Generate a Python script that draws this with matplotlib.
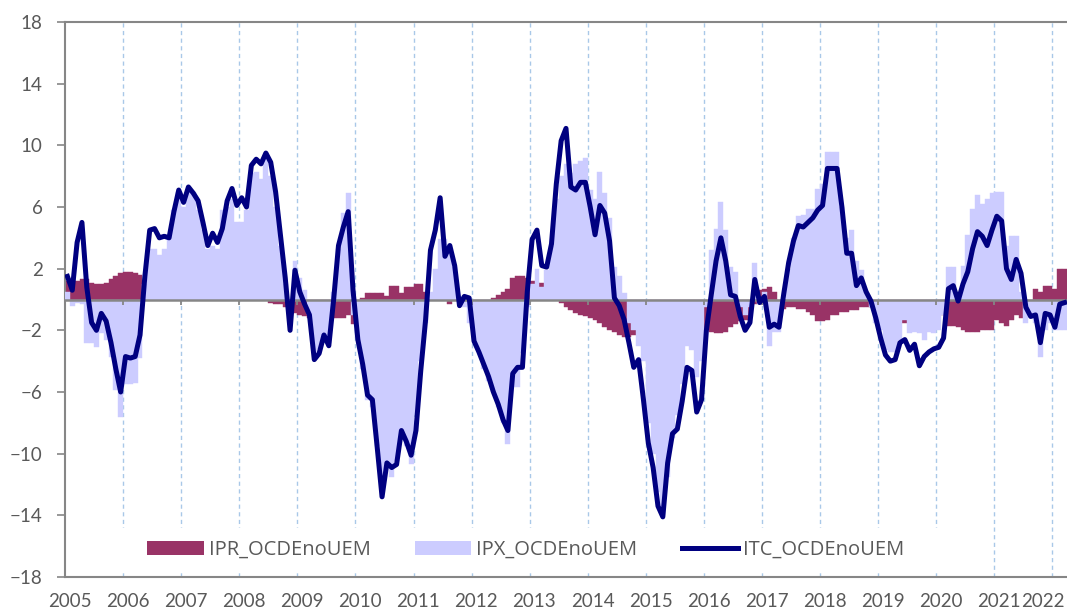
import numpy as np
import matplotlib.pyplot as plt
from matplotlib.patches import Patch, Rectangle
from matplotlib.lines import Line2D

plt.rcParams['font.family'] = ['Lato', 'DejaVu Sans']

# monthly data, Jan 2005 .. Mar 2022
start_year = 2005
itc = [
    1.5, 0.6, 3.7, 5.0, 0.8, -1.5, -2.0, -0.9, -1.4, -2.8, -4.5, -6.0,          # 2005
    -3.7, -3.8, -3.7, -2.3, 1.5, 4.5, 4.6, 4.0, 4.1, 4.0, 5.7, 7.1,             # 2006
    6.3, 7.3, 6.9, 6.4, 5.0, 3.5, 4.3, 3.7, 4.6, 6.4, 7.2, 6.1,                 # 2007
    6.6, 6.0, 8.7, 9.1, 8.8, 9.5, 8.9, 7.0, 4.2, 1.4, -2.0, 1.9,                # 2008
    0.5, -0.3, -1.0, -3.9, -3.5, -2.3, -3.0, 0.0, 3.5, 4.7, 5.7, 0.6,           # 2009
    -2.6, -4.2, -6.2, -6.5, -9.6, -12.8, -10.6, -10.9, -10.7, -8.5, -9.2, -10.1,  # 2010
    -8.5, -4.6, -1.3, 3.2, 4.5, 6.6, 2.8, 3.5, 2.2, -0.4, 0.2, 0.1,             # 2011
    -2.7, -3.4, -4.2, -5.0, -6.0, -6.8, -7.8, -8.5, -4.8, -4.4, -4.4, 0.5,      # 2012
    3.9, 4.5, 2.2, 2.1, 3.6, 7.5, 10.3, 11.1, 7.3, 7.1, 7.6, 7.6,               # 2013
    6.0, 4.2, 6.1, 5.6, 3.8, 0.1, -0.4, -1.3, -2.8, -4.4, -3.9, -6.5,           # 2014
    -9.3, -10.9, -13.4, -14.1, -10.6, -8.7, -8.4, -6.6, -4.4, -4.6, -7.3, -6.5,  # 2015
    -2.0, 0.3, 2.5, 4.0, 2.5, 0.3, 0.2, -1.1, -2.0, -1.5, 1.3, -0.2,            # 2016
    0.2, -1.8, -1.6, -1.8, 0.4, 2.4, 3.8, 4.8, 4.7, 5.0, 5.3, 5.8,              # 2017
    6.1, 8.5, 8.5, 8.5, 6.0, 3.0, 3.0, 0.9, 1.4, 0.5, -0.1, -1.2,               # 2018
    -2.5, -3.6, -4.0, -3.9, -2.8, -2.6, -3.3, -2.9, -4.3, -3.7, -3.4, -3.2,     # 2019
    -3.1, -2.5, 0.7, 0.9, -0.1, 1.0, 1.8, 3.3, 4.4, 4.1, 3.5, 4.5,              # 2020
    5.4, 5.1, 2.0, 1.3, 2.6, 1.7, -0.5, -1.1, -1.0, -2.8, -0.9, -1.0,           # 2021
    -1.8, -0.3, -0.2,                                                           # 2022
]
ipx = [
    0.5, -0.4, -0.2, -0.3, -2.8, -2.8, -3.1, -2.2, -2.6, -3.7, -5.9, -7.6,      # 2005
    -5.5, -5.5, -5.4, -3.8, 1.0, 3.3, 3.3, 2.9, 3.3, 3.9, 5.8, 7.0,             # 2006
    6.0, 7.0, 7.0, 5.8, 4.5, 3.3, 3.5, 3.3, 5.8, 6.0, 6.5, 5.0,                 # 2007
    5.0, 5.8, 8.2, 8.3, 7.8, 9.2, 8.0, 6.0, 3.5, 1.0, -0.5, 2.5,                # 2008
    1.4, 0.6, -1.0, -3.5, -3.2, -2.2, -2.8, 0.5, 3.3, 5.6, 6.9, -1.0,           # 2009
    -2.5, -4.5, -6.5, -7.0, -9.5, -12.9, -11.0, -11.5, -10.5, -8.8, -9.5, -10.7,  # 2010
    -7.5, -4.0, -1.5, 0.5, 2.0, 3.9, 3.9, 3.0, 2.1, 0.2, -0.5, -1.5,            # 2011
    -2.5, -3.3, -4.5, -5.3, -6.0, -7.0, -8.0, -9.4, -5.7, -5.7, -3.5, -0.5,     # 2012
    1.0, 2.0, 0.8, 1.9, 3.5, 6.5, 8.0, 8.8, 8.2, 8.8, 9.0, 9.2,                 # 2013
    7.1, 6.5, 8.3, 6.9, 5.3, 2.1, 1.5, 0.4, -1.5, -2.0, -3.0, -4.0,             # 2014
    -8.0, -10.0, -12.5, -14.0, -11.5, -9.0, -7.5, -5.5, -3.0, -3.3, -5.0, -4.0,  # 2015
    -0.5, 3.2, 4.6, 6.3, 4.5, 2.1, 1.8, -0.5, -1.0, -0.5, 2.4, -0.3,            # 2016
    0.5, -3.0, -2.1, -2.1, 0.0, 2.0, 4.0, 5.4, 5.5, 5.9, 5.9, 7.2,              # 2017
    7.5, 9.6, 9.6, 9.6, 6.0, 4.0, 4.5, 2.5, 1.9, 0.4, -0.5, -1.5,               # 2018
    -2.0, -3.3, -3.4, -3.4, -2.6, -1.3, -2.2, -2.1, -2.2, -2.6, -2.1, -2.2,     # 2019
    -2.0, -1.0, 2.1, 2.1, 0.5, 2.2, 4.2, 5.9, 6.8, 6.2, 6.5, 6.9,               # 2020
    7.0, 7.0, 3.5, 4.1, 4.1, 0.5, -1.5, -1.0, -1.5, -3.7, -2.0, -1.5,           # 2021
    -2.0, -2.0, -2.0,                                                           # 2022
]
ipr = [
    1.2, 1.3, 1.2, 1.3, 1.3, 1.1, 1.0, 1.0, 1.1, 1.3, 1.5, 1.7,                 # 2005
    1.8, 1.8, 1.7, 1.6, 0.5, 0.3, 0.3, 0.3, 0.3, 0.3, 0.3, 0.3,                 # 2006
    0.3, 0.3, 0.3, 0.3, 0.3, 0.3, 0.3, 0.3, 0.3, 0.3, 0.3, 0.3,                 # 2007
    0.3, 0.3, 0.3, 0.3, 0.2, 0.0, -0.2, -0.3, -0.3, -0.5, -0.7, -0.9,           # 2008
    -1.0, -1.1, -1.2, -1.2, -1.6, -1.2, -1.2, -1.2, -1.2, -1.2, -1.0, -1.6,     # 2009
    -1.0, 0.1, 0.4, 0.4, 0.4, 0.4, 0.2, 0.9, 0.9, 0.4, 0.8, 0.8,                # 2010
    1.0, 1.0, 0.5, 0.3, 0.2, 0.1, 0.0, -0.3, 0.0, 0.0, 0.0, 0.0,                # 2011
    0.0, 0.0, 0.0, 0.0, 0.1, 0.3, 0.5, 0.7, 1.4, 1.5, 1.5, 1.4,                 # 2012
    1.2, 1.1, 1.1, 0.5, 0.3, 0.0, -0.2, -0.5, -0.7, -0.9, -1.0, -1.1,           # 2013
    -1.2, -1.3, -1.5, -1.8, -2.0, -2.1, -2.3, -2.4, -2.4, -2.3, -2.1, -2.2,     # 2014
    -2.3, -2.2, -2.0, -2.0, -1.8, -1.8, -1.6, -1.6, -1.5, -1.5, -1.6, -1.8,     # 2015
    -2.0, -2.1, -2.2, -2.2, -2.1, -1.8, -1.6, -1.4, -1.3, -1.2, -0.3, 0.6,      # 2016
    0.7, 0.8, 0.5, -0.2, -0.6, -0.5, -0.5, -0.6, -0.6, -0.8, -1.0, -1.4,        # 2017
    -1.4, -1.3, -1.0, -1.0, -0.8, -0.8, -0.7, -0.7, -0.5, -0.5, -0.5, -0.3,     # 2018
    -0.3, -0.2, 0.0, 0.0, 0.0, -1.5, -0.3, -0.2, 0.0, 0.0, -0.2, -0.5,          # 2019
    -0.5, -1.0, -1.7, -1.7, -1.8, -2.0, -2.1, -2.1, -2.1, -2.0, -2.0, -2.0,     # 2020
    -1.3, -1.5, -1.7, -1.3, -1.0, -1.2, -1.0, -0.5, 0.7, 0.5, 0.9, 0.9,         # 2021
    0.7, 2.0, 2.0,                                                              # 2022
]
year_labels = [str(y) for y in range(2005, 2023)]
labels = ['IPR_OCDEnoUEM', 'IPX_OCDEnoUEM', 'ITC_OCDEnoUEM']

c_ipr = '#993366'
c_ipx = '#CCCCFF'
c_itc = '#000080'
grey = '#868686'

n = len(itc)
x_left = start_year + np.arange(n) / 12.0
x_mid = x_left + 1 / 24.0
x_end = start_year + n / 12.0

fig = plt.figure(figsize=(10.67, 6.12), dpi=100)
ax = fig.add_axes([65 / 1067, 35 / 612, 1002 / 1067, 555 / 612])

# year separators (dashed)
years = np.arange(2006, 2023)
ax.vlines(years, -18, 18, colors='#A9C8E8', linestyles=(0, (3, 2.5)), linewidth=1.0, zorder=1)

ax.bar(x_left, ipr, width=1 / 12, align='edge', color=c_ipr, edgecolor=c_ipr, linewidth=0.3, zorder=2)
ax.bar(x_left, ipx, width=1 / 12, align='edge', color=c_ipx, edgecolor=c_ipx, linewidth=0.3, zorder=3)

# zero line with year ticks
ax.axhline(0, color=grey, linewidth=1.8, zorder=4)
ax.vlines(np.arange(2005, 2023), -0.35, 0, colors=grey, linewidth=1.3, zorder=4)

ax.plot(x_mid, itc, color=c_itc, linewidth=3.6, solid_joinstyle='round', zorder=5)

# white box behind the legend
ax.add_patch(Rectangle((0.035, 0.011), 0.868, 0.077, transform=ax.transAxes,
                       facecolor='white', edgecolor='none', zorder=6))

handles = [Patch(facecolor=c_ipr, edgecolor='none'),
           Patch(facecolor=c_ipx, edgecolor='none'),
           Line2D([0], [0], color=c_itc, linewidth=3.6)]
leg = ax.legend(handles, labels, loc='center', bbox_to_anchor=(0.46, 0.049), ncol=3,
                frameon=False, prop={'family': ['Open Sans', 'DejaVu Sans'], 'size': 14.5},
                handlelength=2.8, handleheight=0.72, handletextpad=0.25, columnspacing=2.2)
leg.set_zorder(7)
for t in leg.get_texts():
    t.set_color('#595959')

ax.set_xlim(start_year, x_end)
ax.set_ylim(-18, 18)
ax.set_yticks(np.arange(-18, 19, 4))
ax.tick_params(axis='y', direction='out', length=6, width=1.2, color=grey,
               labelsize=13.5, labelcolor='#595959', pad=10)
ax.set_xticks([])

for side in ['left', 'top', 'bottom']:
    ax.spines[side].set_color(grey)
    ax.spines[side].set_linewidth(1.5)
ax.spines['right'].set_visible(False)

# year labels under the axis
for lab in year_labels:
    xpos = int(lab) + 0.08
    if lab == '2022':
        xpos = 2021.83
    ax.text(xpos, -0.045, lab, transform=ax.get_xaxis_transform(), ha='center', va='center',
            fontsize=13.5, color='#595959', clip_on=False)

fig.savefig('out.png', dpi=100)
